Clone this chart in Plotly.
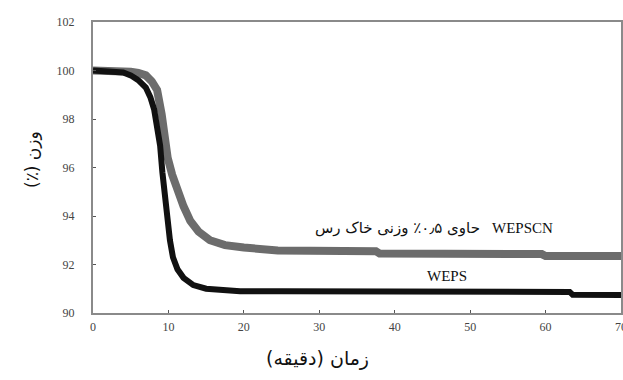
import plotly.graph_objects as go

# WEPS (black)
weps_t = [0, 2, 4, 5, 6, 7, 7.6, 8.1, 8.5, 8.9, 9.2, 9.5, 9.9, 10.2, 10.6, 11.2, 12.0, 13.3, 15.0, 17.0, 19.5, 25, 30, 40, 50, 60, 63.2, 63.6, 70]
weps_v = [100, 99.98, 99.92, 99.8, 99.6, 99.3, 98.9, 98.4, 97.8, 96.9, 95.8, 94.8, 93.7, 93.0, 92.3, 91.8, 91.45, 91.15, 91.0, 90.93, 90.9, 90.9, 90.89, 90.89, 90.88, 90.88, 90.87, 90.75, 90.74]

# WEPSCN (grey)
wepscn_t = [0, 2, 4, 5, 6, 7, 7.8, 8.5, 9.1, 9.5, 9.9, 10.5, 11.1, 12.0, 12.9, 14.0, 15.5, 17.5, 20.0, 24.0, 24.5, 37.5, 38.0, 59.5, 60.0, 70]
wepscn_v = [100, 100, 99.98, 99.95, 99.9, 99.8, 99.55, 99.2, 98.2, 97.3, 96.4, 95.7, 95.1, 94.4, 93.8, 93.35, 93.0, 92.8, 92.7, 92.66, 92.58, 92.55, 92.45, 92.43, 92.35, 92.35]

x_ticks = [0, 10, 20, 30, 40, 50, 60, 70]
y_ticks = [90, 92, 94, 96, 98, 100, 102]

fig = go.Figure()
fig.add_trace(go.Scatter(x=wepscn_t, y=wepscn_v, mode="lines",
                         line=dict(color="#6c6c6c", width=8), showlegend=False))
fig.add_trace(go.Scatter(x=weps_t, y=weps_v, mode="lines",
                         line=dict(color="#111111", width=6), showlegend=False))

axis_common = dict(showgrid=False, zeroline=False, showline=True, linecolor="#8a8a8a",
                   linewidth=2, mirror=True, ticks="inside", ticklen=3, tickwidth=1,
                   tickcolor="#555", ticklabeloverflow="allow", automargin=False,
                   tickfont=dict(family="Liberation Serif", size=12, color="#444"))

fig.update_xaxes(range=[0, 70], tickvals=x_ticks, ticktext=[str(v) for v in x_ticks],
                 ticklabelstandoff=2, **axis_common)
fig.update_yaxes(range=[90, 102], tickvals=y_ticks, ticktext=[str(v) for v in y_ticks],
                 ticklabelstandoff=14, **axis_common)

ar_font = dict(family="DejaVu Sans", size=15, color="#111")
fig.add_annotation(x=51.6, y=93.5, xref="x", yref="y", xanchor="right", yanchor="middle",
                   text="\u200fحاوی ۰٫۵٪ وزنی خاک رس\u200f", showarrow=False, font=ar_font)
fig.add_annotation(x=52.6, y=93.5, xref="x", yref="y", xanchor="left", yanchor="middle",
                   text="WEPSCN", showarrow=False,
                   font=dict(family="Liberation Serif", size=15, color="#111"))
fig.add_annotation(x=46.9, y=91.53, xref="x", yref="y", xanchor="center", yanchor="middle",
                   text="WEPS", showarrow=False,
                   font=dict(family="Liberation Serif", size=15, color="#111"))

fig.add_annotation(x=0.426, y=-0.155, xref="paper", yref="paper", xanchor="center",
                   yanchor="middle", text="(دقیقه) زمان", showarrow=False,
                   font=dict(family="DejaVu Sans", size=19, color="#111"))
fig.add_annotation(x=-0.1155, y=0.526, xref="paper", yref="paper", xanchor="center",
                   yanchor="middle", text="\u200fوزن (٪)\u200f", textangle=-90,
                   showarrow=False, font=dict(family="DejaVu Sans", size=17, color="#111"))

fig.update_layout(width=623, height=380, margin=dict(l=93, r=2, t=22, b=67),
                  plot_bgcolor="white", paper_bgcolor="white")

fig.write_html("out.html")
